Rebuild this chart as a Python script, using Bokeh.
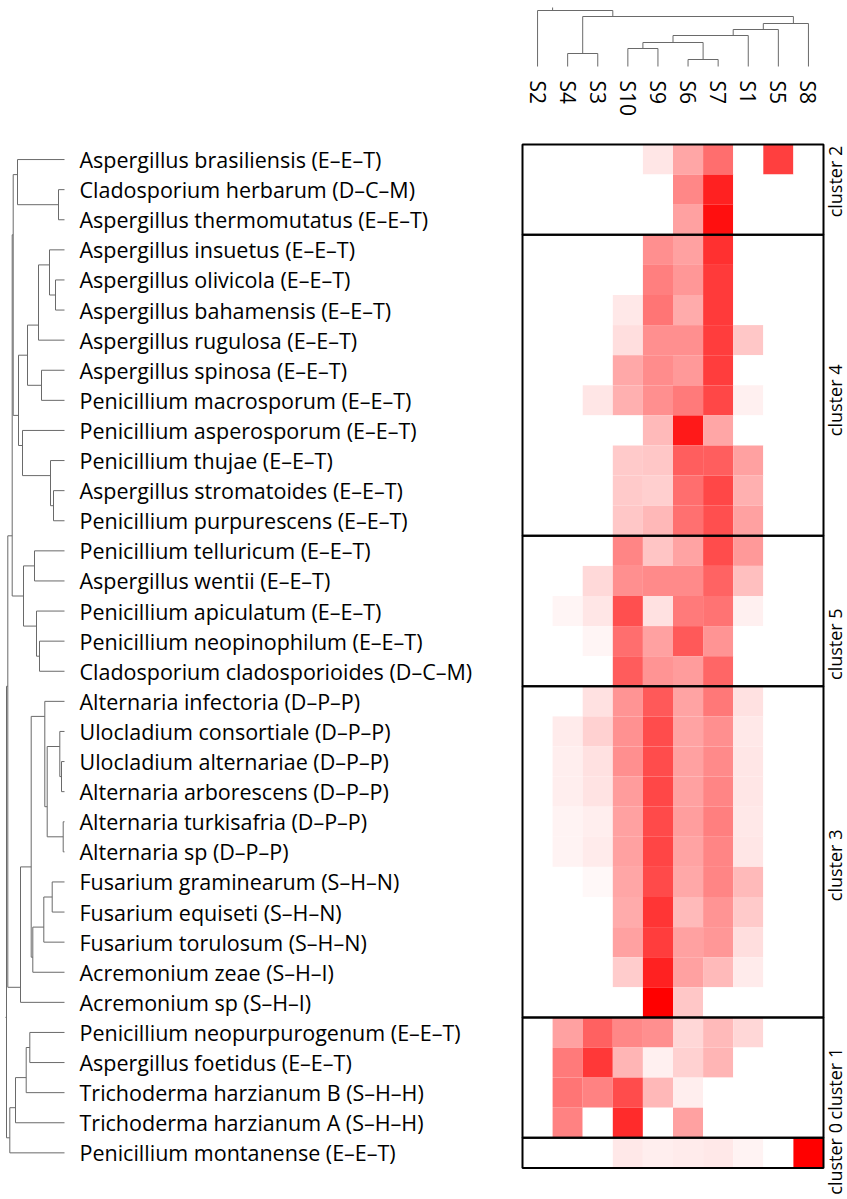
import math
from bokeh.plotting import figure
from bokeh.models import Range1d, ColumnDataSource, LinearColorMapper
from bokeh.core.properties import value
from bokeh.embed import file_html
from bokeh.resources import INLINE

# ---------------- data ----------------
samples = ["S2", "S4", "S3", "S10", "S9", "S6", "S7", "S1", "S5", "S8"]

species = [
    "Aspergillus brasiliensis (E–E–T)",
    "Cladosporium herbarum (D–C–M)",
    "Aspergillus thermomutatus (E–E–T)",
    "Aspergillus insuetus (E–E–T)",
    "Aspergillus olivicola (E–E–T)",
    "Aspergillus bahamensis (E–E–T)",
    "Aspergillus rugulosa (E–E–T)",
    "Aspergillus spinosa (E–E–T)",
    "Penicillium macrosporum (E–E–T)",
    "Penicillium asperosporum (E–E–T)",
    "Penicillium thujae (E–E–T)",
    "Aspergillus stromatoides (E–E–T)",
    "Penicillium purpurescens (E–E–T)",
    "Penicillium telluricum (E–E–T)",
    "Aspergillus wentii (E–E–T)",
    "Penicillium apiculatum (E–E–T)",
    "Penicillium neopinophilum (E–E–T)",
    "Cladosporium cladosporioides (D–C–M)",
    "Alternaria infectoria (D–P–P)",
    "Ulocladium consortiale (D–P–P)",
    "Ulocladium alternariae (D–P–P)",
    "Alternaria arborescens (D–P–P)",
    "Alternaria turkisafria (D–P–P)",
    "Alternaria sp (D–P–P)",
    "Fusarium graminearum (S–H–N)",
    "Fusarium equiseti (S–H–N)",
    "Fusarium torulosum (S–H–N)",
    "Acremonium zeae (S–H–I)",
    "Acremonium sp (S–H–I)",
    "Penicillium neopurpurogenum (E–E–T)",
    "Aspergillus foetidus (E–E–T)",
    "Trichoderma harzianum B (S–H–H)",
    "Trichoderma harzianum A (S–H–H)",
    "Penicillium montanense (E–E–T)",
]

# relative abundance (0 = white, 1 = full red), columns in `samples` order
abundance = [
    [0, 0, 0, 0, 0.10, 0.35, 0.57, 0, 0.75, 0],
    [0, 0, 0, 0, 0, 0.47, 0.87, 0, 0, 0],
    [0, 0, 0, 0, 0, 0.37, 0.94, 0, 0, 0],
    [0, 0, 0, 0, 0.44, 0.37, 0.81, 0, 0, 0],
    [0, 0, 0, 0, 0.50, 0.41, 0.77, 0, 0, 0],
    [0, 0, 0, 0.09, 0.54, 0.33, 0.77, 0, 0, 0],
    [0, 0, 0, 0.13, 0.44, 0.44, 0.76, 0.22, 0, 0],
    [0, 0, 0, 0.34, 0.45, 0.40, 0.76, 0, 0, 0],
    [0, 0, 0.10, 0.31, 0.44, 0.52, 0.72, 0.06, 0, 0],
    [0, 0, 0, 0, 0.27, 0.90, 0.35, 0, 0, 0],
    [0, 0, 0, 0.21, 0.22, 0.63, 0.63, 0.37, 0, 0],
    [0, 0, 0, 0.21, 0.19, 0.57, 0.72, 0.31, 0, 0],
    [0, 0, 0, 0.22, 0.28, 0.56, 0.69, 0.37, 0, 0],
    [0, 0, 0, 0.48, 0.23, 0.36, 0.70, 0.40, 0, 0],
    [0, 0, 0.15, 0.44, 0.46, 0.46, 0.61, 0.25, 0, 0],
    [0, 0.04, 0.10, 0.69, 0.12, 0.52, 0.55, 0.06, 0, 0],
    [0, 0, 0.04, 0.57, 0.37, 0.65, 0.42, 0, 0, 0],
    [0, 0, 0, 0.64, 0.42, 0.39, 0.60, 0, 0, 0],
    [0, 0, 0.12, 0.42, 0.65, 0.36, 0.53, 0.12, 0, 0],
    [0, 0.08, 0.18, 0.43, 0.70, 0.36, 0.44, 0.09, 0, 0],
    [0, 0.07, 0.12, 0.44, 0.70, 0.37, 0.46, 0.10, 0, 0],
    [0, 0.07, 0.11, 0.39, 0.72, 0.37, 0.48, 0.10, 0, 0],
    [0, 0.05, 0.07, 0.37, 0.71, 0.38, 0.50, 0.09, 0, 0],
    [0, 0.05, 0.08, 0.37, 0.73, 0.36, 0.48, 0.10, 0, 0],
    [0, 0, 0.03, 0.35, 0.71, 0.34, 0.48, 0.27, 0, 0],
    [0, 0, 0, 0.33, 0.79, 0.27, 0.42, 0.21, 0, 0],
    [0, 0, 0, 0.37, 0.76, 0.37, 0.41, 0.13, 0, 0],
    [0, 0, 0, 0.20, 0.87, 0.37, 0.27, 0.08, 0, 0],
    [0, 0, 0, 0, 1.00, 0.22, 0, 0, 0, 0],
    [0, 0.37, 0.62, 0.47, 0.44, 0.16, 0.27, 0.16, 0, 0],
    [0, 0.52, 0.78, 0.29, 0.06, 0.18, 0.29, 0, 0, 0],
    [0, 0.54, 0.49, 0.70, 0.28, 0.07, 0, 0, 0, 0],
    [0, 0.49, 0, 0.83, 0, 0.37, 0, 0, 0, 0],
    [0, 0, 0, 0.09, 0.07, 0.08, 0.09, 0.05, 0, 1.00],
]

cluster_names = ["cluster 2", "cluster 4", "cluster 5", "cluster 3", "cluster 1", "cluster 0"]
cluster_sizes = [3, 10, 5, 11, 4, 1]

# dendrograms: (left, right, merge height); ints are leaf indices in display order
C2 = (0, (1, 2, 6), 47)
C4 = ((((3, (4, 5, 9), 15), 6, 26), (7, 8, 23), 37),
      (9, (10, (11, 12, 11), 14), 42), 46)
C5 = ((13, 14, 30), (15, (16, 17, 25), 28), 41)
C3 = (((18, ((19, (20, 21, 3), 4.7), (22, 23, 1.3), 17.3), 19.7),
       (((24, 25, 12.3), 26, 20.7), 27, 31.7), 33.3), 28, 44)
C1 = ((((29, 30, 34.7), 31, 38.3), 32, 49), 33, 54.7)
row_tree = ((((C2, C4, 51.3), C5, 52.3), C3, 56.7), C1, 58)

CA = ((3, 4, 18), (5, 6, 7), 24)
CB = (((CA, 7, 31), 8, 37), 9, 43)
col_tree = (0, ((1, 2, 13), CB, 50), 56)

# ---------------- layout (cell units; one cell = 30.1 px) ----------------
CELL = 30.1
PX = 1.0 / CELL
W, H = 847, 1199
X0 = -522 * PX
Y0 = -144 * PX
n_rows, n_cols = len(species), len(samples)

p = figure(width=W, height=H, output_backend="svg", toolbar_location=None,
           x_range=Range1d(X0, X0 + W * PX), y_range=Range1d(Y0 + H * PX, Y0),
           min_border=0, outline_line_color=None, background_fill_color="white")
p.axis.visible = False
p.grid.visible = False

# ---------------- heatmap ----------------
palette = ["#ff%02x%02x" % (g, g) for g in range(255, -1, -1)]
mapper = LinearColorMapper(palette=palette, low=0, high=1)
xs, ys, vs = [], [], []
for r, row in enumerate(abundance):
    for c, v in enumerate(row):
        xs.append(c + 0.5)
        ys.append(r + 0.5)
        vs.append(v)
src = ColumnDataSource(dict(x=xs, y=ys, v=vs))
p.rect(x="x", y="y", width=1, height=1, source=src,
       fill_color={"field": "v", "transform": mapper}, line_color=None)

# cluster boxes
tops, bottoms = [], []
acc = 0
for s in cluster_sizes:
    tops.append(acc)
    bottoms.append(acc + s)
    acc += s
p.quad(left=[0] * len(tops), right=[n_cols] * len(tops), top=tops, bottom=bottoms,
       fill_color=None, line_color="black", line_width=2)

# cluster labels
label_nudge = [-0.27, 0.5, 1.1, 0.45, 0.2, 0.2]
ly = [(t + b) / 2 + d for t, b, d in zip(tops, bottoms, label_nudge)]
p.text(x=[n_cols + 11 * PX] * len(ly), y=ly, text=cluster_names,
       angle=math.pi / 2, text_align="center", text_baseline="middle",
       text_font=value("Open Sans"), text_font_size="18px", text_color="black")

# row labels
p.text(x=[X0 + 79 * PX] * n_rows, y=[r + 0.5 for r in range(n_rows)], text=species,
       text_align="left", text_baseline="middle",
       text_font=value("Open Sans"), text_font_size="21.5px", text_color="black")

# column labels
p.text(x=[c + 0.5 for c in range(n_cols)], y=[Y0 + 80 * PX] * n_cols, text=samples,
       angle=-math.pi / 2, text_align="left", text_baseline="middle",
       text_font=value("Open Sans"), text_font_size="21px", text_color="black")


# ---------------- dendrograms ----------------
def walk(node, segs):
    if isinstance(node, int):
        return node + 0.5, 0.0, node, node
    left, right, h = node
    pl, hl, mnl, mxl = walk(left, segs)
    pr, hr, mnr, mxr = walk(right, segs)
    segs.append((h, pl, h, pr))
    segs.append((h, pl, hl, pl))
    segs.append((h, pr, hr, pr))
    pos = (mxl + 0.5 + mnr + 0.5) / 2
    return pos, h, mnl, mxr


# row dendrogram (leaves at right, root at left)
rsegs = []
rpos, rh, _, _ = walk(row_tree, rsegs)
rsegs.append((rh, rpos, rh + 1, rpos))
leaf_x = X0 + 64 * PX
p.segment(x0=[leaf_x - a * PX for a, b, c, d in rsegs], y0=[b for a, b, c, d in rsegs],
          x1=[leaf_x - c * PX for a, b, c, d in rsegs], y1=[d for a, b, c, d in rsegs],
          line_color="#6a6a6a", line_width=1)

# column dendrogram (leaves at bottom, root at top)
csegs = []
cpos, ch, _, _ = walk(col_tree, csegs)
csegs.append((ch, cpos, ch + 3, cpos))
leaf_y = Y0 + 66 * PX
p.segment(x0=[b for a, b, c, d in csegs], y0=[leaf_y - a * PX for a, b, c, d in csegs],
          x1=[d for a, b, c, d in csegs], y1=[leaf_y - c * PX for a, b, c, d in csegs],
          line_color="#6a6a6a", line_width=1)

open("out.html", "w").write(file_html(p, INLINE))
